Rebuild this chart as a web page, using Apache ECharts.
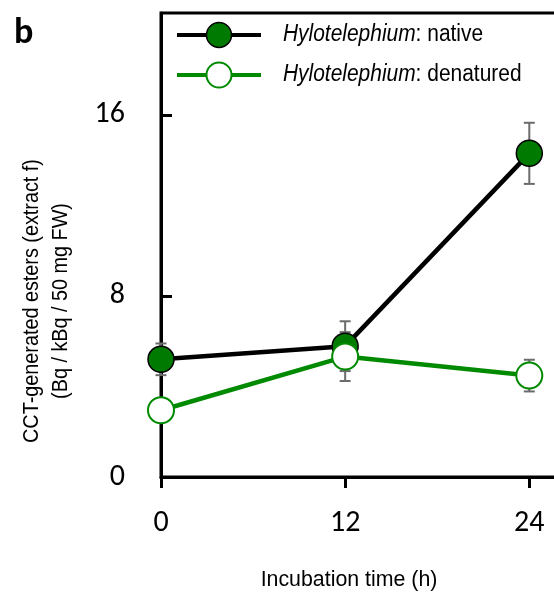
<!DOCTYPE html>
<html>
<head>
<meta charset="utf-8">
<script src="https://cdn.jsdelivr.net/npm/echarts@6/dist/echarts.min.js"></script>
<style>html,body{margin:0;padding:0;background:#fff}#c{width:554px;height:596px}</style>
</head>
<body>
<div id="c"></div>
<script>
const times = [0, 12, 24];
const nativeMean = [5.2, 5.78, 14.3];
const nativeErr = [0.7, 1.1, 1.35];
const denaturedMean = [2.95, 5.32, 4.48];
const denaturedErr = [0.2, 1.08, 0.7];
const xTicks = [0, 12, 24];
const yTicks = [0, 8, 16];
const seriesNames = ['native', 'denatured'];

const narrow = "'Liberation Sans Narrow', 'Arial Narrow', 'Liberation Sans', Arial, sans-serif";
const tickFont = "Carlito, Lato, 'Open Sans', sans-serif";
const nativeFill = '#007a00';
const green = '#008a00';

function errData(m, e) {
  return times.map((t, i) => [t, m[i] - e[i], m[i] + e[i]]);
}
function errRender(params, api) {
  const x = api.value(0);
  const lo = api.coord([x, api.value(1)]);
  const hi = api.coord([x, api.value(2)]);
  const w = 5.5;
  const st = { stroke: '#6b6b6b', lineWidth: 2 };
  return {
    type: 'group',
    children: [
      { type: 'line', shape: { x1: lo[0], y1: lo[1], x2: hi[0], y2: hi[1] }, style: st },
      { type: 'line', shape: { x1: lo[0] - w, y1: lo[1], x2: lo[0] + w, y2: lo[1] }, style: st },
      { type: 'line', shape: { x1: hi[0] - w, y1: hi[1], x2: hi[0] + w, y2: hi[1] }, style: st }
    ]
  };
}

function legendRow(y, name, lineColor, fill, border, bw) {
  return [
    { type: 'line', shape: { x1: 177, y1: y, x2: 261, y2: y }, style: { stroke: lineColor, lineWidth: 4 }, z: 10 },
    { type: 'circle', shape: { cx: 219, cy: y, r: 12.5 }, style: { fill: fill, stroke: border, lineWidth: bw }, z: 11 },
    { type: 'text', x: 283, y: y, scaleX: 0.91, z: 11,
      style: { text: '{i|Hylotelephium}: ' + name, font: '23px ' + narrow, fill: '#000', align: 'left', verticalAlign: 'middle',
        rich: { i: { font: 'italic 23px ' + narrow, fill: '#000' } } } }
  ];
}

const chart = echarts.init(document.getElementById('c'), null, { renderer: 'canvas' });
chart.setOption({
  animation: false,
  backgroundColor: '#fff',
  grid: { left: 161, top: 13, right: -6, bottom: 119, containLabel: false, outerBoundsMode: 'none',
    show: true, borderColor: '#000', borderWidth: 3, backgroundColor: 'transparent' },
  xAxis: {
    type: 'value', min: 0, max: 26,
    axisLine: { show: true, lineStyle: { color: '#000', width: 3 } },
    axisTick: { show: true, inside: false, length: 11, lineStyle: { color: '#000', width: 3 }, customValues: xTicks },
    axisLabel: { customValues: xTicks, margin: 31, fontSize: 30, fontFamily: tickFont, color: '#000' },
    splitLine: { show: false }
  },
  yAxis: {
    type: 'value', min: 0, max: 20.5,
    axisLine: { show: true, lineStyle: { color: '#000', width: 3 } },
    axisTick: { show: true, inside: true, length: 11, lineStyle: { color: '#000', width: 3 }, customValues: yTicks },
    axisLabel: { customValues: yTicks, margin: 36, fontSize: 30, fontFamily: tickFont, color: '#000' },
    splitLine: { show: false }
  },
  graphic: [
    { type: 'text', left: 14, top: 16, style: { text: 'b', font: "bold 36px Carlito, Lato, 'Open Sans', sans-serif", fill: '#000' } },
    { type: 'text', x: 32, y: 301, rotation: Math.PI / 2, scaleX: 0.9, style: { text: 'CCT-generated esters (extract f)', font: '22px ' + narrow, fill: '#000', align: 'center', verticalAlign: 'middle' } },
    { type: 'text', x: 61, y: 301, rotation: Math.PI / 2, scaleX: 0.9, style: { text: '(Bq / kBq / 50 mg FW)', font: '22px ' + narrow, fill: '#000', align: 'center', verticalAlign: 'middle' } },
    { type: 'text', x: 349, y: 580, scaleX: 0.97, style: { text: 'Incubation time (h)', font: '22px ' + narrow, fill: '#000', align: 'center', verticalAlign: 'middle' } }
  ].concat(legendRow(35, seriesNames[0], '#000', nativeFill, '#000', 1.5))
   .concat(legendRow(75, seriesNames[1], green, '#fff', green, 2)),
  series: [
    { type: 'custom', name: 'errN', renderItem: errRender, data: errData(nativeMean, nativeErr), z: 1, silent: true },
    { type: 'custom', name: 'errD', renderItem: errRender, data: errData(denaturedMean, denaturedErr), z: 1, silent: true },
    {
      type: 'line', name: seriesNames[0], z: 3,
      data: times.map((t, i) => [t, nativeMean[i]]),
      symbol: 'circle', symbolSize: 26,
      lineStyle: { color: '#000', width: 4.5 },
      itemStyle: { color: nativeFill, borderColor: '#000', borderWidth: 1.5 }
    },
    {
      type: 'line', name: seriesNames[1], z: 4,
      data: times.map((t, i) => [t, denaturedMean[i]]),
      symbol: 'circle', symbolSize: 26,
      lineStyle: { color: green, width: 4.5 },
      itemStyle: { color: '#fff', borderColor: green, borderWidth: 2 }
    }
  ]
});
</script>
</body>
</html>
